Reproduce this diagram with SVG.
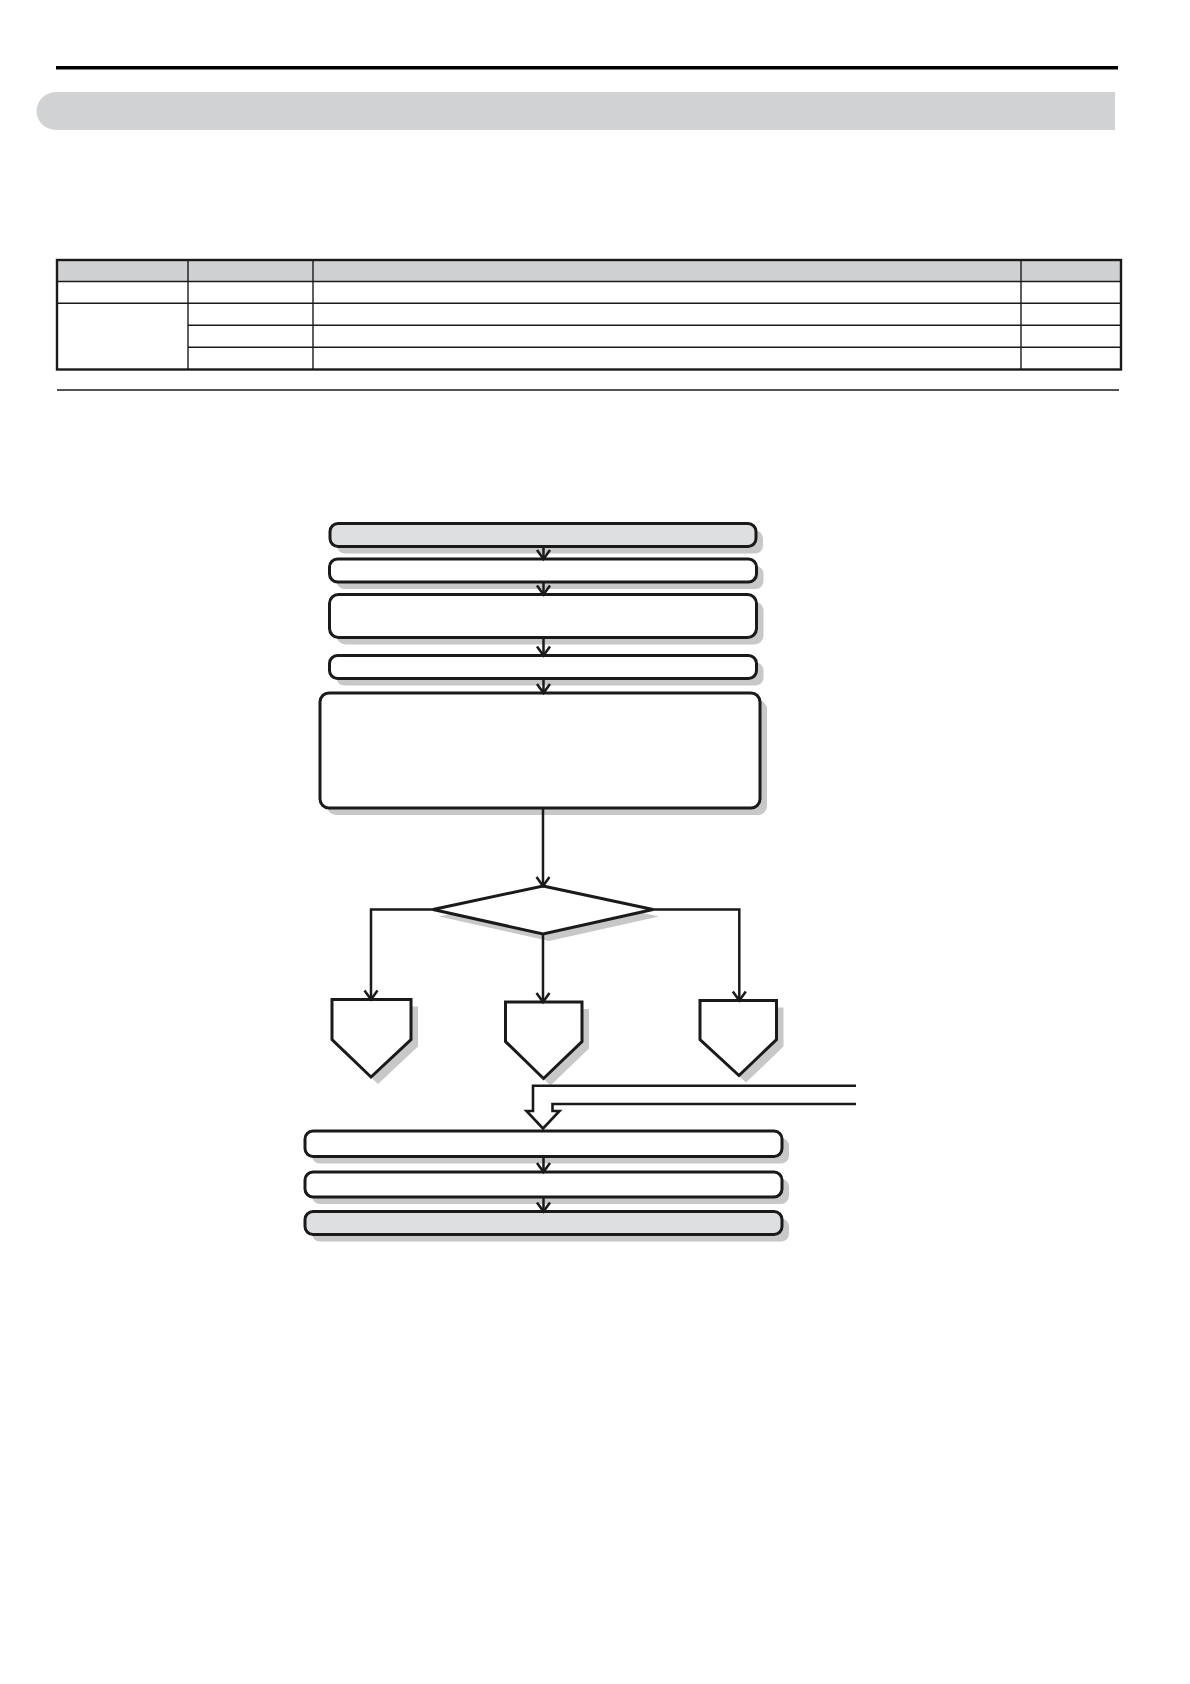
<svg xmlns="http://www.w3.org/2000/svg" width="1190" height="1684" viewBox="0 0 1190 1684">
<style>
.box{fill:#ffffff;stroke:#1a1a1a;stroke-width:3}
.gbox{fill:#dedfe0;stroke:#1a1a1a;stroke-width:3}
.shd{fill:#c8c8c8;stroke:none}
.con{fill:none;stroke:#1a1a1a;stroke-width:2.5}
.tb{fill:none;stroke:#1a1a1a;stroke-width:1.4}
</style>
<defs>
<marker id="ah" viewBox="-11 -8 13 16" refX="0" refY="0" markerWidth="13" markerHeight="16" markerUnits="userSpaceOnUse" orient="auto" overflow="visible">
<path d="M-9,-6.5 L0,0 L-9,6.5" fill="none" stroke="#1a1a1a" stroke-width="2.5"/>
</marker>
</defs>
<rect width="1190" height="1684" fill="#ffffff"/>
<g id="header">
<line x1="56" y1="67.7" x2="1118" y2="67.7" stroke="#000" stroke-width="3.6"/>
<path d="M56.5,92 H1115 V130 H56.5 A20,19 0 0 1 56.5,92 Z" fill="#d1d2d4"/>
</g>
<g id="table">
<rect x="57" y="260" width="1064" height="21.5" fill="#cfd0d2"/>
<line class="tb" x1="57" y1="281.5" x2="1121" y2="281.5"/>
<line class="tb" x1="57" y1="303.3" x2="1121" y2="303.3"/>
<line class="tb" x1="188" y1="325.3" x2="1121" y2="325.3"/>
<line class="tb" x1="188" y1="347.3" x2="1121" y2="347.3"/>
<line class="tb" x1="188" y1="260" x2="188" y2="369.5"/>
<line class="tb" x1="313" y1="260" x2="313" y2="369.5"/>
<line class="tb" x1="1021" y1="260" x2="1021" y2="369.5"/>
<rect x="57" y="260" width="1064" height="109.5" fill="none" stroke="#1a1a1a" stroke-width="2.4"/>
<line x1="57" y1="390" x2="1119" y2="390" stroke="#1a1a1a" stroke-width="1.4"/>
</g>
<g id="n1">
<rect class="shd" x="337" y="530.5" width="426" height="23" rx="8"/>
<rect class="gbox" x="330" y="523.5" width="426" height="23" rx="8"/>
</g>
<g id="n2">
<rect class="shd" x="336.5" y="566" width="427" height="23" rx="8"/>
<rect class="box" x="329.5" y="559" width="427" height="23" rx="8"/>
</g>
<g id="n3">
<rect class="shd" x="336.5" y="601.5" width="427" height="43" rx="9"/>
<rect class="box" x="329.5" y="594.5" width="427" height="43" rx="9"/>
</g>
<g id="n4">
<rect class="shd" x="336.5" y="662.5" width="427" height="23" rx="8"/>
<rect class="box" x="329.5" y="655.5" width="427" height="23" rx="8"/>
</g>
<g id="n5">
<rect class="shd" x="327" y="700" width="440" height="115" rx="9"/>
<rect class="box" x="320" y="693" width="440" height="115" rx="9"/>
</g>
<g id="decision">
<polygon class="shd" points="549,893 659,916.5 549,941 439,916.5"/>
<polygon class="box" points="543,886 653,909.5 543,934 433,909.5"/>
</g>
<g id="p1">
<polygon class="shd" points="339,1006.5 418,1006.5 418,1046.5 378,1084 339,1046.5"/>
<polygon class="box" points="332,999.5 411,999.5 411,1039.5 371,1077 332,1039.5"/>
</g>
<g id="p2">
<polygon class="shd" points="512.5,1009 589,1009 589,1048.5 550.5,1085.5 512.5,1048.5"/>
<polygon class="box" points="505.5,1002 582,1002 582,1041.5 543.5,1078.5 505.5,1041.5"/>
</g>
<g id="p3">
<polygon class="shd" points="707,1007.5 783.5,1007.5 783.5,1046.5 746,1082.5 707,1046.5"/>
<polygon class="box" points="700,1000.5 776.5,1000.5 776.5,1039.5 739,1075.5 700,1039.5"/>
</g>
<g id="nA">
<rect class="shd" x="312" y="1138" width="477" height="25.5" rx="8"/>
<rect class="box" x="305" y="1131" width="477" height="25.5" rx="8"/>
</g>
<g id="nB">
<rect class="shd" x="312" y="1179" width="477" height="25" rx="8"/>
<rect class="box" x="305" y="1172" width="477" height="25" rx="8"/>
</g>
<g id="nC">
<rect class="shd" x="312" y="1218.5" width="477" height="23" rx="8"/>
<rect class="gbox" x="305" y="1211.5" width="477" height="23" rx="8"/>
</g>
<g id="connectors">
<line class="con" x1="543.5" y1="547.5" x2="543.5" y2="559" marker-end="url(#ah)"/>
<line class="con" x1="543.5" y1="583" x2="543.5" y2="594.5" marker-end="url(#ah)"/>
<line class="con" x1="543.5" y1="638.5" x2="543.5" y2="655.5" marker-end="url(#ah)"/>
<line class="con" x1="543.5" y1="679.5" x2="543.5" y2="693" marker-end="url(#ah)"/>
<line class="con" x1="543" y1="809" x2="543" y2="886" marker-end="url(#ah)"/>
<polyline class="con" points="433,909.5 371,909.5 371,999.5" marker-end="url(#ah)"/>
<line class="con" x1="543" y1="934" x2="543" y2="1002" marker-end="url(#ah)"/>
<polyline class="con" points="653,909.5 739.3,909.5 739.3,1000.5" marker-end="url(#ah)"/>
<path d="M856,1085.7 H533 V1111 H526.5 L543,1128.5 L559.5,1111 H552.5 V1104 H856" fill="#ffffff" stroke="#1a1a1a" stroke-width="2.6" stroke-linejoin="miter"/>
<line class="con" x1="543.5" y1="1157.5" x2="543.5" y2="1172" marker-end="url(#ah)"/>
<line class="con" x1="543.5" y1="1198" x2="543.5" y2="1211.5" marker-end="url(#ah)"/>
</g>
</svg>
